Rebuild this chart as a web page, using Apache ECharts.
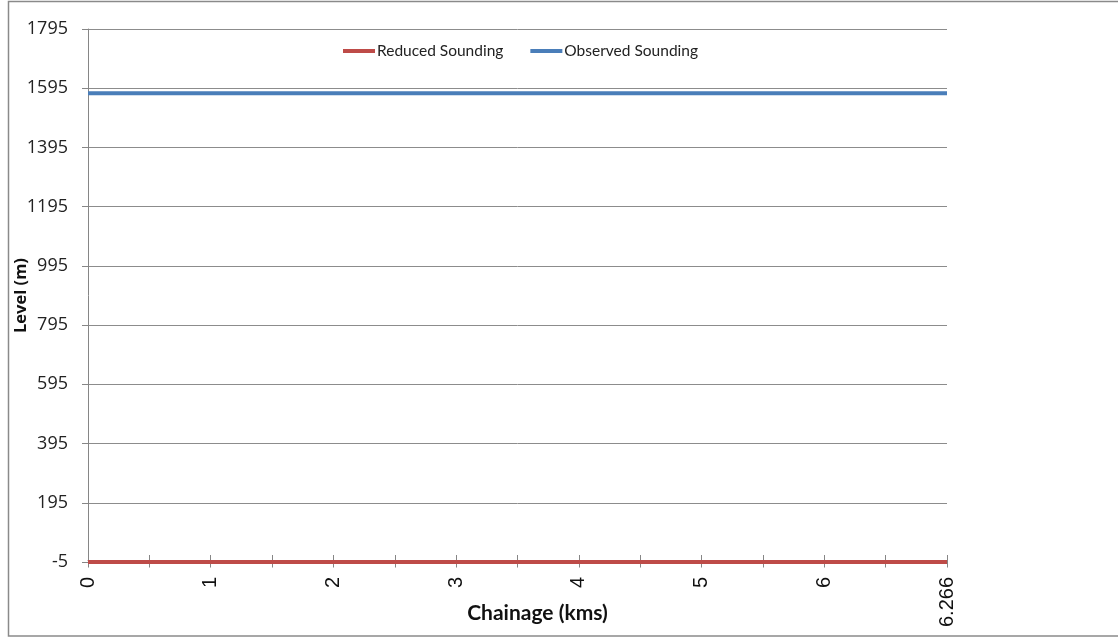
<!DOCTYPE html>
<html>
<head>
<meta charset="utf-8">
<script src="https://cdn.jsdelivr.net/npm/echarts@6/dist/echarts.min.js"></script>
<style>
  html, body { margin: 0; padding: 0; background: #fff; }
  #chart { width: 1118px; height: 638px; }
</style>
</head>
<body>
<div id="chart"></div>
<script>
// Chainage stations (km) along the survey line
const chainage = ['0', '0.5', '1', '1.5', '2', '2.5', '3', '3.5', '4', '4.5', '5', '5.5', '6', '6.2', '6.266'];
// Reduced sounding levels (m)
const reducedSounding = [-5, -5, -5, -5, -5, -5, -5, -5, -5, -5, -5, -5, -5, -5, -5];
// Observed sounding levels (m)
const observedSounding = [1578, 1578, 1578, 1578, 1578, 1578, 1578, 1578, 1578, 1578, 1578, 1578, 1578, 1578, 1578];
// Level axis range and step
const levelMin = -5;
const levelMax = 1795;
const levelStep = 200;

const chart = echarts.init(document.getElementById('chart'));
const calibriLike = 'Lato, "Open Sans", sans-serif';
const openSans = '"Open Sans", Lato, sans-serif';
const axisGrey = '#868686';

chart.setOption({
  animation: false,
  backgroundColor: '#ffffff',
  graphic: [{
    type: 'rect',
    shape: { x: 8.5, y: 1.5, width: 1200, height: 634.5 },
    style: { fill: 'none', stroke: '#8a8a8a', lineWidth: 1.5 },
    silent: true
  }],
  legend: {
    top: 38,
    left: 338,
    itemWidth: 32,
    itemHeight: 4,
    itemGap: 27,
    icon: 'rect',
    textStyle: { fontFamily: calibriLike, fontSize: 15.5, color: '#222', padding: [0, 0, 0, -3] },
    data: ['Reduced Sounding', 'Observed Sounding']
  },
  grid: { left: 88, right: 171, top: 29, bottom: 76, containLabel: false, outerBoundsMode: 'none' },
  xAxis: [
    {
      type: 'category',
      data: chainage,
      boundaryGap: false,
      name: 'Chainage (kms)',
      nameLocation: 'middle',
      nameGap: 41,
      nameMoveOverlap: false,
      nameTextStyle: { fontFamily: calibriLike, fontSize: 21, fontWeight: 'bold', color: '#111', padding: [0, 0, 0, 40] },
      axisLine: { show: true, lineStyle: { color: axisGrey, width: 1 } },
      axisTick: { show: true, interval: 0, length: 7, lineStyle: { color: axisGrey } },
      axisLabel: {
        interval: 1,
        rotate: 90,
        margin: 15,
        fontFamily: '"Liberation Sans", Arial, sans-serif',
        fontSize: 20,
        color: '#111'
      },
      splitLine: { show: false }
    },
    {
      // inner half of the crossing tick marks
      type: 'category',
      data: chainage,
      boundaryGap: false,
      position: 'bottom',
      offset: 0,
      axisLine: { show: false },
      axisTick: { show: true, inside: true, interval: 0, length: 7, lineStyle: { color: axisGrey } },
      axisLabel: { show: false },
      splitLine: { show: false }
    }
  ],
  yAxis: {
    type: 'value',
    min: levelMin,
    max: levelMax,
    interval: levelStep,
    name: 'Level (m)',
    nameLocation: 'middle',
    nameGap: 58,
    nameMoveOverlap: false,
    nameTextStyle: { fontFamily: openSans, fontSize: 16.5, fontWeight: 'bold', color: '#111' },
    axisLine: { show: true, lineStyle: { color: axisGrey, width: 1 } },
    axisTick: { show: true, length: 6, lineStyle: { color: axisGrey } },
    axisLabel: {
      fontFamily: openSans,
      fontSize: 18,
      color: '#222',
      margin: 20,
      formatter: (v) => String(v)
    },
    splitLine: { show: true, lineStyle: { color: '#8c8c8c', width: 1 } }
  },
  series: [
    {
      name: 'Reduced Sounding',
      type: 'line',
      data: reducedSounding,
      showSymbol: false,
      symbol: 'none',
      color: '#be4b48',
      lineStyle: { color: '#be4b48', width: 4 },
      z: 3
    },
    {
      name: 'Observed Sounding',
      type: 'line',
      data: observedSounding,
      showSymbol: false,
      symbol: 'none',
      color: '#4a7eb9',
      lineStyle: { color: '#4a7eb9', width: 4 },
      z: 3
    }
  ]
});
</script>
</body>
</html>
